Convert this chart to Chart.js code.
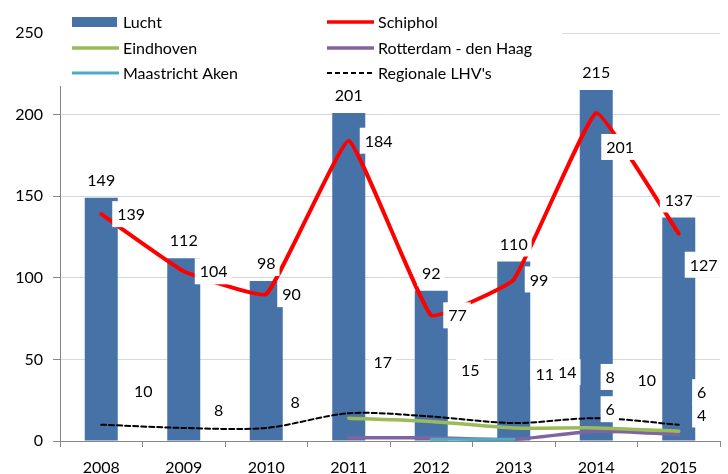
<!DOCTYPE html>
<html><head><meta charset="utf-8">
<script src="https://cdn.jsdelivr.net/npm/chart.js@4"></script>
<style>html,body{margin:0;padding:0;background:#fff}</style>
</head><body>
<canvas id="c" width="728" height="474"></canvas>
<script>
const years = ['2008','2009','2010','2011','2012','2013','2014','2015'];
const lucht = [149,112,98,201,92,110,215,137];
const schiphol = [139,104,90,184,77,99,201,127];
const eindhoven = [null,null,null,14,12,8,8,6];
const rotterdam = [null,null,null,2,2,1,6,4];
const maastricht = [null,null,null,null,1,1,null,null];
const regionaal = [10,8,8,17,15,11,14,10];
const yMin = 0, yMax = 250, yStep = 50;

const FONT = '16px Lato';

const labelPlugin = {
  id: 'vlabels',
  afterDatasetsDraw(chart) {
    const ctx = chart.ctx;
    ctx.save();
    ctx.font = FONT;
    ctx.textBaseline = 'middle';
    ctx.textAlign = 'left';
    chart.data.datasets.forEach((ds, i) => {
      if (!ds.labelOffsets) return;
      const meta = chart.getDatasetMeta(i);
      ds.data.forEach((v, j) => {
        const off = ds.labelOffsets[j];
        if (!off || v == null) return;
        const el = meta.data[j];
        const txt = String(v);
        const w = ctx.measureText(txt).width;
        let left;
        if (ds.labelAlign === 'left') left = el.x + off[0];
        else left = el.x + off[0] - w / 2;
        const cy = el.y + off[1];
        if (ds.labelBg) {
          ctx.fillStyle = '#fff';
          ctx.fillRect(left - 5, cy - 13, w + 9, 26);
        }
        ctx.fillStyle = '#000';
        ctx.fillText(txt, left, cy + 1);
      });
    });
    ctx.restore();
  }
};

const legendPlugin = {
  id: 'customLegend',
  afterDraw(chart) {
    const ctx = chart.ctx;
    ctx.save();
    ctx.fillStyle = '#fff';
    ctx.fillRect(48, 5, 514, 81);
    const cols = [72, 327];
    const rows = [22, 48, 73];
    ctx.font = FONT;
    ctx.textBaseline = 'middle';
    ctx.textAlign = 'left';
    chart.data.datasets.forEach((ds, i) => {
      const x = cols[i % 2], y = rows[Math.floor(i / 2)];
      if (ds.type === 'bar') {
        ctx.fillStyle = ds.backgroundColor;
        ctx.fillRect(x, y - 5, 45, 10);
      } else {
        ctx.strokeStyle = ds.borderColor;
        ctx.lineWidth = Math.min(ds.borderWidth, 3.5);
        ctx.setLineDash(ds.borderDash || []);
        ctx.beginPath();
        ctx.moveTo(x, y);
        ctx.lineTo(x + 47, y);
        ctx.stroke();
        ctx.setLineDash([]);
      }
      ctx.fillStyle = '#000';
      ctx.fillText(ds.label, x + 51, y + 1);
    });
    ctx.restore();
  }
};

const lineBase = { type: 'line', pointRadius: 0, pointHoverRadius: 0, fill: false, spanGaps: false, borderCapStyle: 'round', borderJoinStyle: 'round' };

new Chart(document.getElementById('c'), {
  data: {
    labels: years,
    datasets: [
      { type: 'bar', label: 'Lucht', data: lucht, backgroundColor: '#4672A8', borderWidth: 0,
        order: 10, barPercentage: 0.4, categoryPercentage: 1.0,
        labelOffsets: years.map(() => [0, -18]), labelBg: true },
      { ...lineBase, label: 'Schiphol', data: schiphol, borderColor: '#FF0000', borderWidth: 4,
        tension: 0.1, order: 1, labelAlign: 'left', labelBg: true,
        labelOffsets: [[16,0],[16,0],[16,0],[16,0],[17,0],[16,0],[10,34],[11,31]] },
      { ...lineBase, label: 'Eindhoven', data: eindhoven, borderColor: '#9BBB59', borderWidth: 3.5,
        tension: 0.25, order: 3, labelBg: true,
        labelOffsets: [null,null,null,null,null,null,[14,-51],[23,-39]] },
      { ...lineBase, label: 'Rotterdam - den Haag', data: rotterdam, borderColor: '#8064A2', borderWidth: 3.5,
        tension: 0.25, order: 5, labelBg: true,
        labelOffsets: [null,null,null,null,null,null,[14,-22],[23,-20]] },
      { ...lineBase, label: 'Maastricht Aken', data: maastricht, borderColor: '#4BACC6', borderWidth: 3,
        tension: 0.25, order: 4 },
      { ...lineBase, label: "Regionale LHV's", data: regionaal, borderColor: '#000000', borderWidth: 2,
        borderDash: [5, 3], tension: 0.3, order: 2, labelBg: true,
        labelOffsets: [[42,-34],[35,-18],[29,-26],[34,-51],[39,-47],[31,-49],[-29,-46],[-32,-45]] }
    ]
  },
  options: {
    responsive: false,
    devicePixelRatio: 1,
    animation: false,
    events: [],
    layout: { padding: { top: 33, right: 8, left: 0, bottom: 0 } },
    plugins: { legend: { display: false }, tooltip: { enabled: false } },
    scales: {
      x: {
        offset: true,
        grid: { offset: true, drawOnChartArea: false, drawTicks: true, tickLength: 6, color: '#868686' },
        border: { color: '#868686', width: 1 },
        ticks: { color: '#000', font: { family: 'Lato', size: 16 }, padding: 11, maxRotation: 0 },
        afterFit(s) { s.height = 33; }
      },
      y: {
        min: yMin, max: yMax,
        grid: { color: '#D9D9D9', tickColor: '#868686', tickLength: 7, drawTicks: true },
        border: { color: '#868686', width: 1 },
        ticks: { stepSize: yStep, color: '#000', font: { family: 'Lato', size: 16 }, padding: 10 },
        afterFit(s) { s.width = 60; }
      }
    }
  },
  plugins: [labelPlugin, legendPlugin]
});
</script>
</body></html>
